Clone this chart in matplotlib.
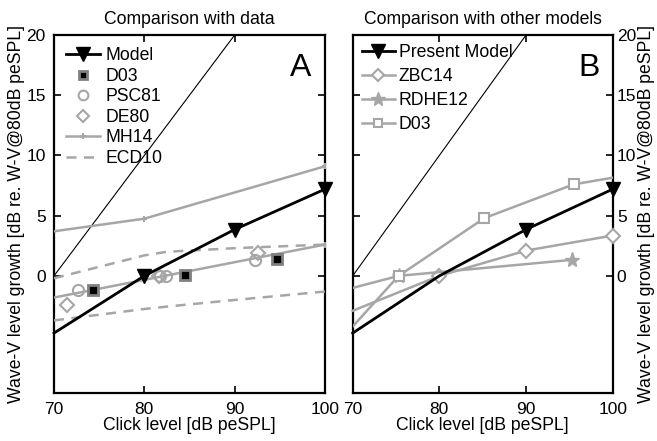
import matplotlib
matplotlib.use("Agg")
import matplotlib.pyplot as plt
from matplotlib.lines import Line2D

plt.rcParams['font.family'] = ['Liberation Sans', 'DejaVu Sans']

GRAY = '0.65'

# ---- data ----
model_x = [70, 80, 90, 100]
model_y = [-4.75, 0.0, 3.85, 7.2]

ident_x = [70, 90]
ident_y = [0, 20]

d03a_x = [74.35, 84.5, 94.7]
d03a_y = [-1.2, 0.05, 1.4]

psc81_x = [72.7, 81.7, 82.4, 92.3]
psc81_y = [-1.2, 0.0, 0.0, 1.3]

de80_x = [71.4, 81.6, 92.55]
de80_y = [-2.4, 0.0, 1.9]

mh14_x = [70, 80, 100]
mh14_hi = [3.7, 4.75, 9.1]
mh14_lo = [-1.8, -0.33, 2.6]

ecd10_x = [70, 80, 82.5, 90, 100]
ecd10_hi = [-0.2, 1.7, 2.0, 2.3, 2.6]
ecd10_lo = [-3.7, -2.75, -2.55, -2.0, -1.3]

zbc14_x = [70, 80, 90, 100]
zbc14_y = [-2.9, 0.0, 2.1, 3.35]

rdhe12_x = [70, 75.3, 95.3]
rdhe12_y = [-1.0, 0.0, 1.33]

d03b_x = [70, 75.3, 85.2, 95.5, 100]
d03b_y = [-4.2, 0.0, 4.8, 7.6, 8.15]

xticks = [70, 80, 90, 100]
yticks = [0, 5, 10, 15, 20]

W, H = 657, 441
fig = plt.figure(figsize=(W/100, H/100), dpi=100)

ylo, yhi = -9.75, 20
ax_top = 1 - 35/H
ax_bot = 1 - 393.3/H
axA = fig.add_axes([54/W, ax_bot, (325-54)/W, ax_top-ax_bot])
axB = fig.add_axes([352.7/W, ax_bot, (612.7-352.7)/W, ax_top-ax_bot])

FS = 12.7
TFS = 12.5

def style(ax):
    ax.set_xlim(70, 100)
    ax.set_ylim(ylo, yhi)
    ax.set_xticks(xticks)
    ax.set_yticks(yticks)
    ax.tick_params(direction='in', length=5, width=1.2, labelsize=TFS,
                   top=True, bottom=True, left=True, right=True, pad=6)
    for s in ax.spines.values():
        s.set_linewidth(1.6)
    ax.set_xlabel('Click level [dB peSPL]', fontsize=FS, labelpad=0)

# ---- Panel A ----
axA.plot(ident_x, ident_y, color='black', lw=0.8, zorder=2)
axA.plot(ecd10_x, ecd10_hi, color=GRAY, lw=1.8, ls=(0, (4, 3)), zorder=3)
axA.plot(ecd10_x, ecd10_lo, color=GRAY, lw=1.8, ls=(0, (4, 3)), zorder=3)
axA.plot(mh14_x, mh14_hi, color=GRAY, lw=1.8, marker='+', ms=5, mew=1.5, markevery=[1, 2], zorder=3)
axA.plot(mh14_x, mh14_lo, color=GRAY, lw=1.8, marker='+', ms=5, mew=1.5, markevery=[1, 2], zorder=3)
axA.plot(model_x, model_y, color='black', lw=2, marker='v', ms=10, markevery=[1, 2, 3], zorder=5, clip_on=False)
axA.plot(d03a_x, d03a_y, ls='none', marker='s', ms=7, mfc='black', mec='0.5', mew=2, zorder=4)
axA.plot(psc81_x, psc81_y, ls='none', marker='o', ms=8, mfc='none', mec=GRAY, mew=1.5, zorder=4)
axA.plot(de80_x, de80_y, ls='none', marker='D', ms=7, mfc='none', mec=GRAY, mew=1.5, zorder=4)

hA = [
    Line2D([], [], color='black', lw=2, marker='v', ms=10),
    Line2D([], [], ls='none', marker='s', ms=6, mfc='black', mec='0.5', mew=2),
    Line2D([], [], ls='none', marker='o', ms=7, mfc='none', mec=GRAY, mew=1.5),
    Line2D([], [], ls='none', marker='D', ms=6, mfc='none', mec=GRAY, mew=1.5),
    Line2D([], [], color=GRAY, lw=1.8, marker='+', ms=5, mew=1.5),
    Line2D([], [], color=GRAY, lw=1.8, ls=(0, (4, 3))),
]
lA = ['Model', 'D03', 'PSC81', 'DE80', 'MH14', 'ECD10']
axA.legend(hA, lA, loc='upper left', frameon=False, fontsize=FS, handlelength=1.9,
           handletextpad=0.3, labelspacing=0.2, borderaxespad=0.4, borderpad=0.3)
style(axA)
axA.set_ylabel('Wave-V level growth [dB re. W-V@80dB peSPL]', fontsize=FS, labelpad=1)
axA.set_title('Comparison with data', fontsize=FS, pad=8)
axA.text(0.95, 0.95, 'A', transform=axA.transAxes, ha='right', va='top', fontsize=23)

# ---- Panel B ----
axB.plot(ident_x, ident_y, color='black', lw=0.8, zorder=2)
axB.plot(model_x, model_y, color='black', lw=2, marker='v', ms=10, markevery=[2, 3], zorder=5, clip_on=False)
axB.plot(zbc14_x, zbc14_y, color=GRAY, lw=1.8, marker='D', ms=7, mfc='white', mec=GRAY, mew=1.5,
         markevery=[1, 2, 3], zorder=4, clip_on=False)
axB.plot(rdhe12_x, rdhe12_y, color=GRAY, lw=1.8, marker='*', ms=11, mfc=GRAY, mec=GRAY,
         markevery=[1, 2], zorder=4)
axB.plot(d03b_x, d03b_y, color=GRAY, lw=1.8, marker='s', ms=7, mfc='white', mec=GRAY, mew=1.5,
         markevery=[1, 2, 3], zorder=4)
hB = [
    Line2D([], [], color='black', lw=2, marker='v', ms=10),
    Line2D([], [], color=GRAY, lw=1.8, marker='D', ms=6, mfc='white', mec=GRAY, mew=1.5),
    Line2D([], [], color=GRAY, lw=1.8, marker='*', ms=10, mfc=GRAY, mec=GRAY),
    Line2D([], [], color=GRAY, lw=1.8, marker='s', ms=6, mfc='white', mec=GRAY, mew=1.5),
]
lB = ['Present Model', 'ZBC14', 'RDHE12', 'D03']
axB.legend(hB, lB, loc='upper left', frameon=False, fontsize=FS, handlelength=1.9,
           handletextpad=0.2, labelspacing=0.4, borderaxespad=0.2, borderpad=0.3)
style(axB)
axB.yaxis.tick_right()
axB.tick_params(axis='y', left=True, right=True, labelleft=False, labelright=True, pad=3)
axB.yaxis.set_label_position('right')
axB.set_ylabel('Wave-V level growth [dB re. W-V@80dB peSPL]', fontsize=FS, labelpad=1)
axB.set_title('Comparison with other models', fontsize=FS, pad=8)
axB.text(0.95, 0.95, 'B', transform=axB.transAxes, ha='right', va='top', fontsize=23)

fig.savefig('out.png', dpi=100)
